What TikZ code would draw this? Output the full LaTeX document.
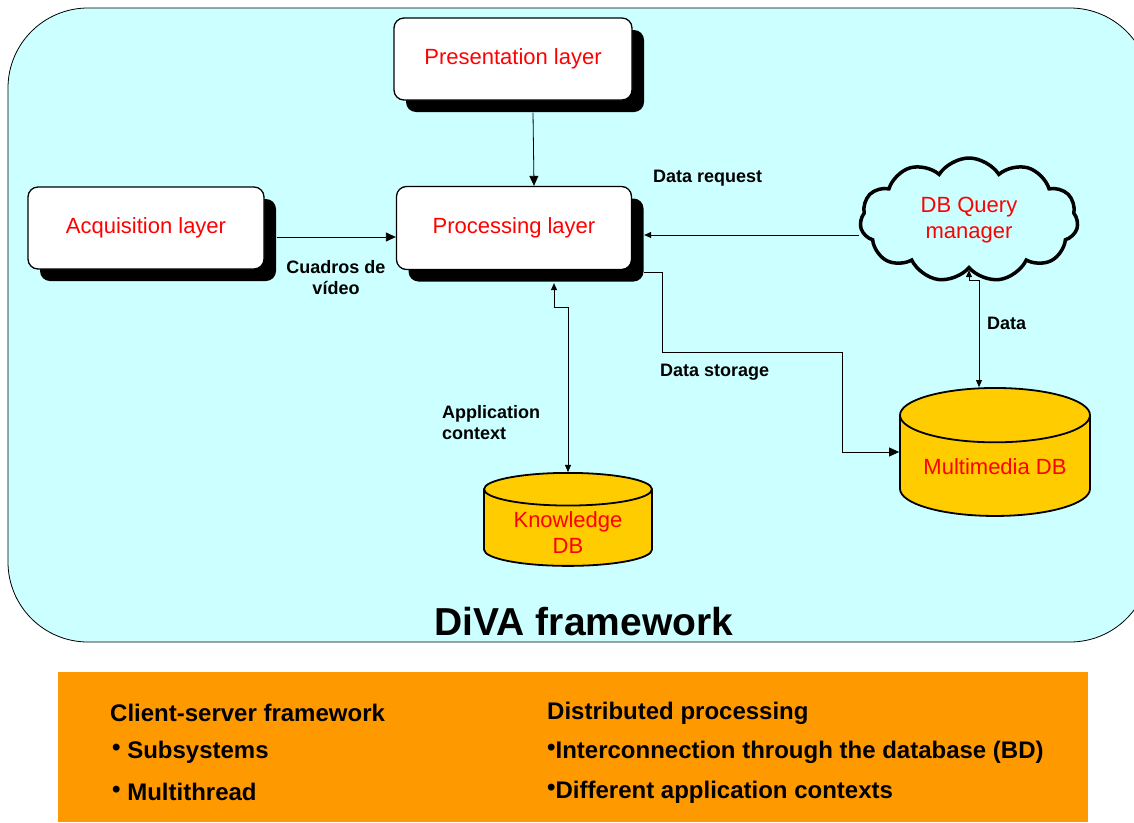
\documentclass[tikz,border=0pt]{standalone}
\usepackage{fontspec}
\setmainfont{Liberation Sans}
\usetikzlibrary{arrows.meta,shapes.geometric,shapes.symbols,shadows}
\definecolor{framebg}{HTML}{CCFFFF}
\definecolor{dbfill}{HTML}{FFCC00}
\definecolor{notebg}{HTML}{FF9900}
\definecolor{layertext}{HTML}{FF0000}
% lowered db caption that leaves the cylinder size alone
\newcommand{\dbcaption}[2]{\raisebox{-#1}[0pt][0pt]{\begin{tabular}{@{}c@{}}#2\end{tabular}}}
\begin{document}
\begin{tikzpicture}[x=1pt, y=-1pt,
    box/.style={draw=black, line width=1.3pt, fill=white, rounded corners=10pt,
                text=layertext, inner sep=0pt, font=\fontsize{22}{26}\selectfont,
                drop shadow={shadow xshift=12pt, shadow yshift=-12pt, opacity=1, fill=black}},
    db/.style={cylinder, shape border rotate=90, aspect=0.3, draw=black, line width=1.8pt,
               fill=dbfill, text=layertext, inner sep=0pt, align=center,
               font=\fontsize{22}{26}\selectfont},
    arr/.style={-{Triangle[width=9pt,length=10pt]}, line width=0.8pt},
    arrs/.style={-{Triangle[width=6pt,length=7pt]}, line width=0.8pt},
    lbl/.style={font=\bfseries\fontsize{18}{21}\selectfont, inner sep=0pt},
    note/.style={anchor=west, inner sep=0pt, font=\bfseries\fontsize{24}{28}\selectfont}
  ]
    \clip (0,0) rectangle (1134,822);

    % framework area
    \draw[fill=framebg, line width=0.8pt, rounded corners=80pt] (8,8) rectangle (1150,642);
    \node[font=\bfseries\fontsize{39}{45}\selectfont] (title) at (584,622) {DiVA framework};

    % layers
    \node[box, minimum width=238pt, minimum height=82pt] (pres) at (513,59) {Presentation layer};
    \node[box, minimum width=236pt, minimum height=82pt] (acq)  at (146,228) {Acquisition layer};
    \node[box, minimum width=235pt, minimum height=83pt] (proc) at (514,228) {Processing layer};

    \node[cloud, cloud puffs=11, cloud puff arc=115, aspect=1.6, draw=black, line width=3.5pt,
          fill=framebg, text=layertext, align=center, inner sep=0pt,
          minimum width=218pt, minimum height=124pt,
          font=\fontsize{22}{26}\selectfont] (dbq) at (969,220) {DB Query\\manager};

    % databases
    \node[db, minimum width=168pt, minimum height=93pt] (kdb) at (568,528)
      {\dbcaption{12pt}{Knowledge\\DB}};
    \node[db, aspect=0.38, minimum width=190pt, minimum height=128pt] (mdb) at (995,466)
      {\dbcaption{8pt}{Multimedia DB}};

    % connectors
    \draw[arr] ([xshift=20pt,yshift=-12pt]pres.south) -- ([xshift=20pt]proc.north);
    \draw[arr] ([xshift=12pt,yshift=-9pt]acq.east) -- ([yshift=-9pt]proc.west);
    \draw[arrs] ([yshift=-15pt]dbq.west) -- ([xshift=12pt,yshift=-15pt]proc.east |- dbq.west);
    \draw[arrs, {Triangle[width=6pt,length=7pt]}-{Triangle[width=6pt,length=7pt]}]
      ([xshift=40pt,yshift=-13pt]proc.south) -- ++(0,24) -| (kdb.north);
    \draw[arr] ([xshift=12pt,yshift=-2pt]proc.south east) -| ++(18,80)
      -| ([xshift=-57pt,yshift=14pt]mdb.west) -- ([yshift=14pt]mdb.west);
    \draw[arrs, {Triangle[width=6pt,length=7pt]}-{Triangle[width=6pt,length=7pt]}]
      (dbq.south) -- ++(0,10) -| ([xshift=-16pt]mdb.north);

    % connector labels
    \node[lbl, align=center] (cuadros) at (336,278) {Cuadros de\\vídeo};
    \node[lbl, anchor=west] (request) at (653,178) {Data request};
    \node[lbl, anchor=west, align=left] (appctx) at (442,423) {Application\\context};
    \node[lbl, anchor=west] (storage) at (660,372) {Data storage};
    \node[lbl, anchor=west] (data) at (987,323) {Data};

    % notes
    \fill[notebg] (58,672) rectangle (1088,822);
    \node[note] (cs)   at (110,713) {Client-server framework};
    \node[note] (sub)  at (112,752) {\raisebox{3pt}{•} Subsystems};
    \node[note] (mt)   at (112,792) {\raisebox{3pt}{•} Multithread};
    \node[note] (dist) at (547,713) {Distributed processing};
    \node[note] (ic)   at (547,752) {\raisebox{3pt}{•}Interconnection through the database (BD)};
    \node[note] (ctx)  at (547,792) {\raisebox{3pt}{•}Different application contexts};
  \end{tikzpicture}
\end{document}
